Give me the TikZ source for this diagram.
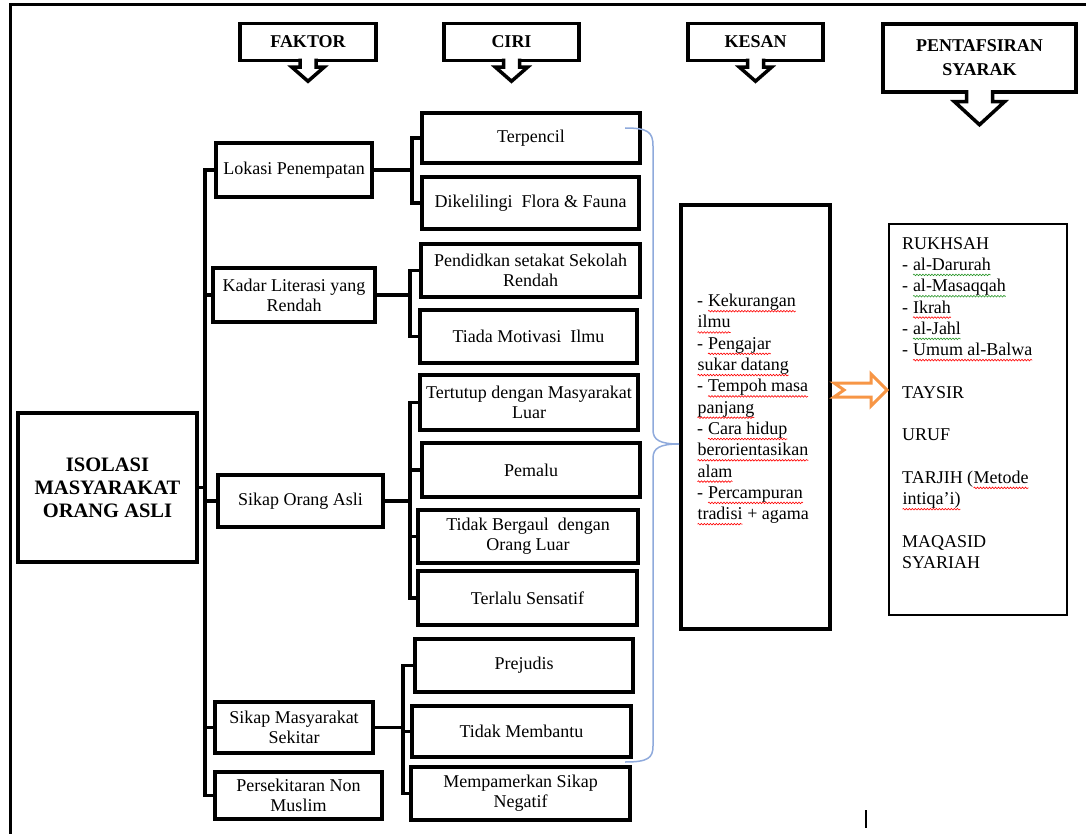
\documentclass[tikz,border=0pt]{standalone}
\usepackage{fontspec}
\setmainfont{Liberation Serif}
\usepackage{tikz}
\usetikzlibrary{arrows,decorations.pathmorphing}

\definecolor{bracecol}{RGB}{143,170,220}
\definecolor{arrcol}{RGB}{247,150,70}
\definecolor{spellgreen}{RGB}{40,150,40}

\newcommand\wavy[2]{\tikz[baseline=(w.base)]{\node[inner sep=0pt, outer sep=0pt, anchor=base] (w) {#2};
  \draw[#1, line width=0.6pt, decorate, decoration={snake, amplitude=0.8pt, segment length=3pt}] ([yshift=-4.5pt]w.base west) -- ([yshift=-4.5pt]w.base east);}}
\newcommand\spell[1]{\wavy{red}{#1}}
\newcommand\spellg[1]{\wavy{spellgreen}{#1}}

\begin{document}
\begin{tikzpicture}[x=1pt, y=-1pt,
  wh/.style 2 args={minimum width=#1pt, minimum height=#2pt},
  box/.style={draw, line width=3.5pt, inner sep=0pt, align=center, font=\fontsize{18}{20}\selectfont},
  hdr/.style={box, fill=white, font=\fontsize{18}{20}\selectfont\bfseries},
  harrow/.style={draw, fill=white, line width=3.5pt},
  conn/.style={line width=3.5pt},
  list/.style={inner sep=0pt, align=left, anchor=north west, font=\fontsize{18}{21.3}\selectfont},
  brace/.style={draw=bracecol, line width=1.5pt},
  blockarr/.style={draw=arrcol, fill=white, line width=3pt}]
\useasboundingbox (0,0) rectangle (1086,834);
%\draw (0,0) grid[step=100] (1086,834);
\draw[line width=3pt] (10,834) -- (10,5) -- (1086,5);

% headers
\node[hdr, wh={136}{37}] (hfak) at (308,42) {FAKTOR};
\node[hdr, wh={135}{37}] (hciri) at (511.5,42) {CIRI};
\node[hdr, wh={135}{37}] (hkes) at (755.5,42) {KESAN};
\node[hdr, wh={193}{68}, font=\fontsize{18}{24}\selectfont\bfseries] (hpen) at (979.5,58) {PENTAFSIRAN\\SYARAK};
\foreach \h in {hfak,hciri,hkes}
  \draw[harrow, shift={(\h.south)}] (-8,-3.6) -- (-8,5) -- (-16,5) -- (0,19) -- (16,5) -- (8,5) -- (8,-3.6);
\draw[harrow, shift={(hpen.south)}] (-13,-3.6) -- (-13,8) -- (-25,8) -- (0,31) -- (25,8) -- (13,8) -- (13,-3.6);

% root
\node[box, wh={179}{149}, font=\fontsize{20.5}{23}\selectfont\bfseries] (iso) at (107.5,487.5) {ISOLASI\\MASYARAKAT\\ORANG ASLI};

% faktor
\node[box, wh={156}{54}] (lok) at (294,170) {Lokasi Penempatan};
\node[box, wh={162}{54}] (kadar) at (294,295) {Kadar Literasi yang\\Rendah};
\node[box, wh={165}{52}] (soa) at (300.5,501) {Sikap Orang Asli};
\node[box, wh={158}{51}] (smas) at (294,727.5) {Sikap Masyarakat\\Sekitar};
\node[box, wh={167}{47}] (pers) at (298.5,795.5) {Persekitaran Non\\Muslim};

% ciri
\node[box, wh={218}{50}] (terp) at (531,138) {Terpencil};
\node[box, wh={217}{52}] (diki) at (530.5,203) {Dikelilingi~ Flora \& Fauna};
\node[box, wh={219}{53}] (pend) at (530.5,270.5) {Pendidkan setakat Sekolah\\Rendah};
\node[box, wh={217}{53}] (tiada) at (528.5,336.5) {Tiada Motivasi~ Ilmu};
\node[box, wh={218}{55}] (tert) at (529,402.5) {Tertutup dengan Masyarakat\\Luar};
\node[box, wh={218}{54}] (pema) at (531,470) {Pemalu};
\node[box, wh={220}{53}] (tbg) at (528,536.5) {Tidak Bergaul~ dengan\\Orang Luar};
\node[box, wh={219}{54}] (terl) at (527.5,598) {Terlalu Sensatif};
\node[box, wh={218}{53}] (prej) at (524,665.5) {Prejudis};
\node[box, wh={219}{51}] (tmb) at (521.5,731.5) {Tidak Membantu};
\node[box, wh={219}{53}] (memp) at (520.5,793.5) {Mempamerkan Sikap\\Negatif};

% trunk and branches
\coordinate (trunk) at (205,0);
\coordinate (br1) at (412,0); \coordinate (br2) at (410,0);
\coordinate (br3) at (410,0); \coordinate (br4) at (403,0);
\draw[conn] (iso.east) -- (iso.east -| trunk);
\draw[conn] (lok.west) -- (lok.west -| trunk) -- (pers.west -| trunk) -- (pers.west);
\foreach \f in {kadar,soa,smas} \draw[conn] (\f.west) -- (\f.west -| trunk);

\draw[conn] (lok.east) -- (lok.east -| br1);
\draw[conn] (terp.west) -- (terp.west -| br1) -- (diki.west -| br1) -- (diki.west);
\draw[conn] (kadar.east) -- (kadar.east -| br2);
\draw[conn] (pend.west) -- (pend.west -| br2) -- (tiada.west -| br2) -- (tiada.west);
\draw[conn] (soa.east) -- (soa.east -| br3);
\draw[conn] (tert.west) -- (tert.west -| br3) -- (terl.west -| br3) -- (terl.west);
\foreach \c in {pema,tbg} \draw[conn] (\c.west) -- (\c.west -| br3);
\draw[conn] (smas.east) -- (smas.east -| br4);
\draw[conn] (prej.west) -- (prej.west -| br4) -- (memp.west -| br4) -- (memp.west);
\draw[conn] (tmb.west) -- (tmb.west -| br4);

% kesan
\node[draw, line width=4pt, wh={149}{424}] (kesan) at (755.5,417) {};
\node[list] (kesanlist) at (697,294) {- \spell{Kekurangan}\\\spell{ilmu}\\- \spell{Pengajar}\\\spell{sukar datang}\\- \spell{Tempoh masa}\\\spell{panjang}\\- \spell{Cara hidup}\\\spell{berorientasikan}\\\spell{alam}\\- \spell{Percampuran}\\\spell{tradisi} + agama};

% brace ciri -> kesan
\coordinate (bt) at (625,128); \coordinate (bb) at (625,762); \coordinate (btip) at (kesan.west |- 0,444);
\draw[brace] (bt) .. controls (648,128) and (653,132) .. (653,146) -- (653,430)
  .. controls (653,440) and (660,444) .. (btip) .. controls (660,444) and (653,448) .. (653,458)
  -- (653,746) .. controls (653,758) and (648,762) .. (bb);

% pentafsiran
\node[draw, line width=1.3pt, wh={178}{391}] (tafsir) at (978,419.5) {};
\node[list] (tafsirlist) at (902,237) {RUKHSAH\\- \spellg{al-Darurah}\\- \spellg{al-Masaqqah}\\- \spell{Ikrah}\\- \spellg{al-Jahl}\\- \spell{Umum al-Balwa}\\[21.3pt]TAYSIR\\[21.3pt]URUF\\[21.3pt]TARJIH (\spell{Metode}\\\spell{intiqa’i)}\\[21.3pt]MAQASID\\SYARIAH};

% arrow kesan -> pentafsiran
\draw[blockarr, shift={(kesan.east |- 0,390)}] (2,-7) -- (39,-7) -- (39,-16) -- (55,0) -- (39,16) -- (39,7) -- (2,7) -- (12,0) -- cycle;

\draw[line width=2.5pt] (866,810) -- (866,828);
\end{tikzpicture}
\end{document}
